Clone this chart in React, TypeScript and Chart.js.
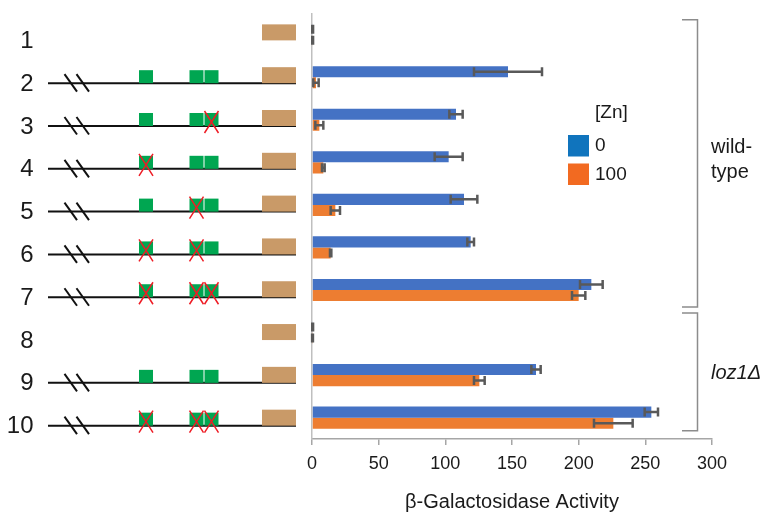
import React, { useEffect, useRef } from "react";
import { Chart, registerables } from "chart.js";

Chart.register(...registerables);

// ---- data ----
const categories = ["1", "2", "3", "4", "5", "6", "7", "8", "9", "10"];
const seriesLabels = ["0", "100"];
const zn0 = [0.5, 147, 108, 102.5, 114, 119, 209.5, 0.5, 168, 254.5];
const zn0Err = [0.3, 25.5, 5, 10.5, 10, 2.5, 8.5, 0.3, 3.5, 5];
const zn100 = [0.5, 3, 5.5, 8.5, 17.5, 14, 200, 0.4, 125.5, 226];
const zn100Err = [0.3, 2, 3, 1, 3.5, 0.5, 5, 0.3, 4, 14.5];
// per row: null = reporter only; otherwise mutated state of the three sites
const mutatedSites: (number[] | null)[] = [
  null,
  [0, 0, 0],
  [0, 0, 1],
  [1, 0, 0],
  [0, 1, 0],
  [1, 1, 0],
  [1, 1, 1],
  null,
  [0, 0, 0],
  [1, 1, 1],
];
const groups = [
  { label: ["wild-", "type"], from: 0, to: 6, italic: false },
  { label: ["loz1Δ"], from: 7, to: 9, italic: true },
];
const xTicks = { min: 0, max: 300, step: 50 };
const legendTitle = "[Zn]";
const axisTitle = "β-Galactosidase Activity";

const FONT = "'Liberation Sans', Arial, sans-serif";
const BAR_COLORS = ["#4472C4", "#ED7D31"];
const LEGEND_COLORS = ["#1074BD", "#F26A21"];
const errs = [zn0Err, zn100Err];

const errorBarPlugin = {
  id: "errorBars",
  afterDatasetsDraw(chart: any) {
    const ctx = chart.ctx;
    const xs = chart.scales.x;
    ctx.save();
    ctx.strokeStyle = "#595959";
    ctx.lineWidth = 2.5;
    chart.data.datasets.forEach((ds: any, di: number) => {
      const meta = chart.getDatasetMeta(di);
      meta.data.forEach((bar: any, j: number) => {
        const v = ds.data[j];
        const e = errs[di][j];
        const x1 = xs.getPixelForValue(v - e);
        const x2 = xs.getPixelForValue(v + e);
        const y = bar.y;
        const h = 4.5;
        ctx.beginPath();
        ctx.moveTo(x1, y);
        ctx.lineTo(x2, y);
        ctx.moveTo(x1, y - h);
        ctx.lineTo(x1, y + h);
        ctx.moveTo(x2, y - h);
        ctx.lineTo(x2, y + h);
        ctx.stroke();
      });
    });
    ctx.restore();
  },
};

const decorPlugin = {
  id: "decor",
  afterDraw(chart: any) {
    const ctx = chart.ctx;
    const ys = chart.scales.y;
    ctx.save();
    // row labels + constructs
    chart.data.labels.forEach((lab: string, i: number) => {
      const barY = ys.getPixelForValue(i);
      const y = barY + 5.7 + 0.26 * i;
      ctx.fillStyle = "#1a1a1a";
      ctx.font = `24px ${FONT}`;
      ctx.textAlign = "right";
      ctx.textBaseline = "middle";
      ctx.fillText(lab, 33.5, y + 1);

      const sites = mutatedSites[i];
      if (sites) {
        ctx.strokeStyle = "#111";
        ctx.lineWidth = 2;
        ctx.beginPath();
        ctx.moveTo(48, y);
        ctx.lineTo(296, y);
        ctx.stroke();
        [64.5, 76.5].forEach((sx) => {
          ctx.beginPath();
          ctx.moveTo(sx, y - 9);
          ctx.lineTo(sx + 12.5, y + 8.5);
          ctx.stroke();
        });
        const sqX = [139, 189.5, 204.5];
        sqX.forEach((sx) => {
          ctx.fillStyle = "#00A651";
          ctx.fillRect(sx, y - 13, 14, 13);
        });
        sqX.forEach((sx, k) => {
          if (sites[k]) {
            ctx.strokeStyle = "#EE1C25";
            ctx.lineWidth = 1.5;
            ctx.beginPath();
            ctx.moveTo(sx, y - 15);
            ctx.lineTo(sx + 14, y + 7);
            ctx.moveTo(sx + 14, y - 15);
            ctx.lineTo(sx, y + 7);
            ctx.stroke();
          }
        });
      }
      ctx.fillStyle = "#C99A68";
      ctx.fillRect(262, y - 16, 34, 16);
    });

    // legend
    ctx.fillStyle = "#1a1a1a";
    ctx.font = `19px ${FONT}`;
    ctx.textAlign = "left";
    ctx.textBaseline = "middle";
    ctx.fillText(legendTitle, 595, 113);
    chart.data.datasets.forEach((ds: any, di: number) => {
      const top = 135 + di * 28.5;
      ctx.fillStyle = LEGEND_COLORS[di];
      ctx.fillRect(568, top, 21, 21.5);
      ctx.fillStyle = "#1a1a1a";
      ctx.fillText(ds.label, 595, top + 11);
    });

    // group brackets
    const bx = 697.5;
    groups.forEach((g, gi) => {
      const top = ys.getPixelForValue(g.from) - (gi === 0 ? 15 : 19.5);
      const bot = ys.getPixelForValue(g.to) + (gi === 0 ? 17 : 13);
      ctx.strokeStyle = "#8C8C8C";
      ctx.lineWidth = 1.5;
      ctx.beginPath();
      ctx.moveTo(682, top);
      ctx.lineTo(bx, top);
      ctx.lineTo(bx, bot);
      ctx.lineTo(682, bot);
      ctx.stroke();
      ctx.fillStyle = "#1a1a1a";
      ctx.font = `${g.italic ? "italic " : ""}20px ${FONT}`;
      ctx.textAlign = "left";
      ctx.textBaseline = "alphabetic";
      const mid = (top + bot) / 2;
      if (g.label.length === 2) {
        ctx.fillText(g.label[0], 711, 153);
        ctx.fillText(g.label[1], 711, 178);
      } else {
        ctx.fillText(g.label[0], 711, mid + 7);
      }
    });
    ctx.restore();
  },
};

export default function App() {
  const ref = useRef<HTMLCanvasElement | null>(null);
  useEffect(() => {
    if (!ref.current) return;
    const chart = new Chart(ref.current, {
      type: "bar",
      data: {
        labels: categories,
        datasets: [
          { label: seriesLabels[0], data: zn0, backgroundColor: BAR_COLORS[0], borderWidth: 0 },
          { label: seriesLabels[1], data: zn100, backgroundColor: BAR_COLORS[1], borderWidth: 0 },
        ],
      },
      options: {
        indexAxis: "y",
        animation: false,
        responsive: false,
        devicePixelRatio: 1,
        categoryPercentage: 0.52,
        barPercentage: 1,
        layout: { padding: { left: 312, right: 56, top: 13.4, bottom: 1.5 } },
        plugins: { legend: { display: false }, tooltip: { enabled: false } },
        scales: {
          x: {
            min: xTicks.min,
            max: xTicks.max,
            ticks: {
              stepSize: xTicks.step,
              font: { size: 18, family: FONT },
              color: "#1a1a1a",
              padding: 8,
            },
            grid: {
              display: true,
              drawOnChartArea: false,
              drawTicks: true,
              tickLength: 6,
              color: "#A6A6A6",
              lineWidth: 1.5,
            },
            border: { display: true, color: "#A6A6A6", width: 1.5 },
            title: {
              display: true,
              text: axisTitle,
              font: { size: 20, family: FONT },
              color: "#1a1a1a",
              padding: { top: 8, bottom: 3 },
            },
          },
          y: {
            ticks: { display: false },
            grid: { display: false, drawTicks: false },
            border: { display: true, color: "#BFBFBF", width: 1.5 },
          },
        },
      },
      plugins: [errorBarPlugin, decorPlugin],
    } as any);
    return () => chart.destroy();
  }, []);
  return (
    <div style={{ position: "absolute", left: 0, top: 0, width: 768, height: 519, background: "#fff" }}>
      <canvas ref={ref} width={768} height={519} />
    </div>
  );
}
